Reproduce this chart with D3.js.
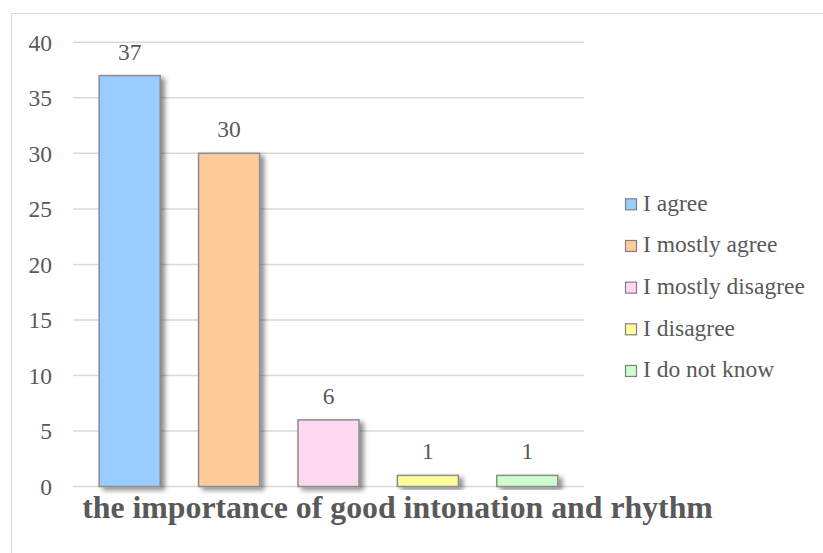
<!DOCTYPE html>
<html>
<head>
<meta charset="utf-8">
<script src="https://cdn.jsdelivr.net/npm/d3@7"></script>
<style>
  html, body { margin: 0; padding: 0; background: #fff; }
  svg { display: block; }
  svg text { font-family: "Liberation Serif", "Times New Roman", "DejaVu Serif", serif !important; fill: #595959; }
</style>
</head>
<body>
<svg id="chart" width="823" height="553"></svg>
<script>
// Survey answers and counts
const categories = ["I agree", "I mostly agree", "I mostly disagree", "I disagree", "I do not know"];
const counts = [37, 30, 6, 1, 1];
const colors = ["#99CCFF", "#FFCC99", "#FFD7F1", "#FFFF99", "#CCFFCC"];
const yTicks = [0, 5, 10, 15, 20, 25, 30, 35, 40];
const title = "the importance of good intonation and rhythm";

const serif = "'Liberation Serif', 'Times New Roman', serif";
const svg = d3.select("#chart");

// Outer chart frame (runs off the right and bottom edges)
svg.append("rect")
  .attr("x", 11.5).attr("y", 13.5)
  .attr("width", 900).attr("height", 600)
  .attr("fill", "#fff").attr("stroke", "#d9d9d9").attr("stroke-width", 1);

// Drop shadow for the bars
const defs = svg.append("defs");
const f = defs.append("filter").attr("id", "shadow")
  .attr("x", "-20%").attr("y", "-20%").attr("width", "150%").attr("height", "150%");
f.append("feDropShadow")
  .attr("dx", 4).attr("dy", 3).attr("stdDeviation", 2.5)
  .attr("flood-color", "#000").attr("flood-opacity", 0.45);

const plot = { left: 73, right: 584, top: 42.3, bottom: 486.5 };

const y = d3.scaleLinear().domain([0, 40]).range([plot.bottom, plot.top]);
const x = d3.scaleBand().domain(categories)
  .range([80, 577]).paddingInner(0.386).paddingOuter(0.193);

// Horizontal gridlines
svg.append("g").selectAll("line").data(yTicks).join("line")
  .attr("x1", plot.left).attr("x2", plot.right)
  .attr("y1", d => y(d)).attr("y2", d => y(d))
  .attr("stroke", "#d9d9d9").attr("stroke-width", 1.5);

// Y axis labels
const yAxis = d3.axisLeft(y).tickValues(yTicks).tickSize(0).tickPadding(0);
const gy = svg.append("g").attr("transform", "translate(52,0)").call(yAxis)
  .attr("font-family", serif).attr("font-size", 23.5);
gy.select(".domain").remove();
gy.selectAll("text")
  .style("font-family", serif)
  .attr("font-size", 23.5)
  .attr("fill", "#595959")
  .attr("dy", "0.34em");

// Bars
svg.append("g").selectAll("rect").data(categories).join("rect")
  .attr("x", d => x(d))
  .attr("y", (d, i) => y(counts[i]))
  .attr("width", x.bandwidth())
  .attr("height", (d, i) => y(0) - y(counts[i]))
  .attr("fill", (d, i) => colors[i])
  .attr("stroke", "#8c8c8c").attr("stroke-width", 1.5)
  .attr("filter", "url(#shadow)");

// Value labels
svg.append("g").selectAll("text").data(categories).join("text")
  .attr("x", d => x(d) + x.bandwidth() / 2)
  .attr("y", (d, i) => y(counts[i]) - 16)
  .attr("text-anchor", "middle")
  .style("font-family", serif)
  .attr("font-size", 23.5)
  .text((d, i) => counts[i]);

// Category title under the axis
svg.append("text")
  .attr("x", 397.5).attr("y", 518)
  .attr("text-anchor", "middle")
  .style("font-family", serif)
  .attr("font-size", 31.8)
  .attr("font-weight", "bold")
  .text(title);

// Legend
const legend = svg.append("g").attr("transform", "translate(625,198.3)");
const rows = legend.selectAll("g").data(categories).join("g")
  .attr("transform", (d, i) => `translate(0,${i * 41.67})`);
rows.append("rect")
  .attr("x", 0.5).attr("y", 0.5).attr("width", 11).attr("height", 11)
  .attr("fill", (d, i) => colors[i])
  .attr("stroke", "#7f7f7f").attr("stroke-width", 1.2);
rows.append("text")
  .attr("x", 18).attr("y", 12.4)
  .style("font-family", serif)
  .attr("font-size", 23.5)
  .text(d => d);
</script>
</body>
</html>
